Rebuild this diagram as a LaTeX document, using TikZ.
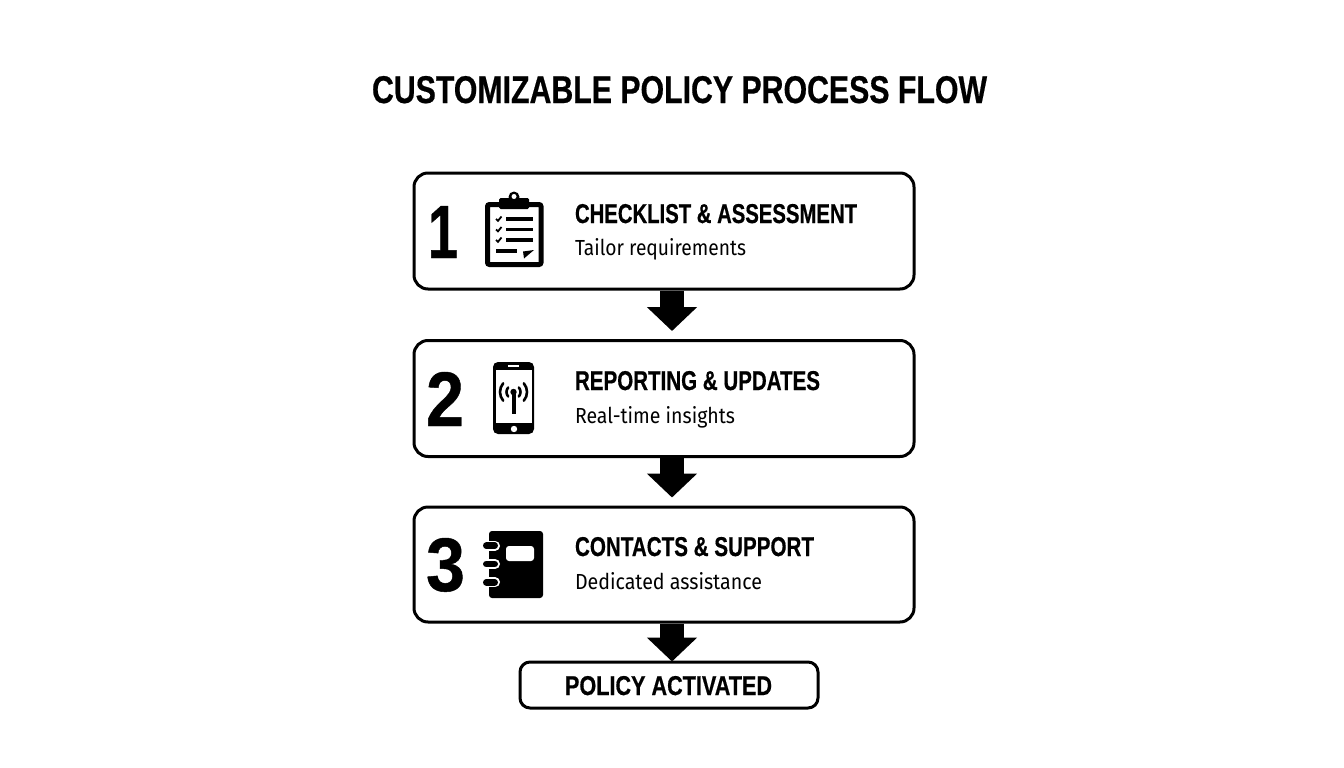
\documentclass[tikz,border=0pt]{standalone}
\usepackage{fontspec}
\usepackage{graphicx}
\setmainfont{Fira Sans}
\newfontfamily\headfont[BoldFeatures={FakeBold=0.6}]{Liberation Sans}
\usetikzlibrary{arrows.meta}
\newcommand{\fitbox}[3]{\resizebox{#1pt}{#2pt}{#3}}
\tikzset{
  x=1pt,y=-1pt,
  stepbox/.style={draw=black,line width=3pt,rounded corners=14pt,fill=white,inner sep=0pt},
  blockarrow/.style={line width=24pt,draw=black,-{Triangle[length=24pt,width=49pt,fill=black]}},
  txt/.style={anchor=base west,inner sep=0pt,outer sep=0pt,text=black},
}
\begin{document}
\begin{tikzpicture}
\useasboundingbox (0,0) rectangle (1344,768);
\node[txt] (title) at (372,103) {\fitbox{615}{27}{\headfont\bfseries CUSTOMIZABLE POLICY PROCESS FLOW}};
\node[stepbox,minimum width=500pt,minimum height=116pt] (b1) at (664,231) {};
\node[stepbox,minimum width=500pt,minimum height=116pt] (b2) at (664,398.5) {};
\node[stepbox,minimum width=500pt,minimum height=115pt] (b3) at (664,564.5) {};
\node[stepbox,minimum width=298pt,minimum height=46pt,rounded corners=10pt] (b4) at (669,685) {};
\draw[blockarrow] ([xshift=8pt]b1.south) -- ([xshift=8pt,yshift=8pt]b2.north);
\draw[blockarrow] ([xshift=8pt]b2.south) -- ([xshift=8pt,yshift=8pt]b3.north);
\draw[blockarrow] ([xshift=8pt]b3.south) -- ([xshift=3pt,yshift=-1pt]b4.north);
% numbers
\node[txt] (n1) at (428,258) {\fitbox{30}{52}{\headfont\bfseries 1}};
\node[txt] (n2) at (426,426) {\fitbox{38}{54}{\headfont\bfseries 2}};
\node[txt] (n3) at (426,591) {\fitbox{39}{53}{\headfont\bfseries 3}};
% texts
\node[txt] (h1) at (575,223) {\fitbox{282}{19}{\headfont\bfseries CHECKLIST \& ASSESSMENT}};
\node[txt] (s1) at (575,255) {\fitbox{171}{17}{Tailor requirements}};
\node[txt] (h2) at (575,390) {\fitbox{245}{19}{\headfont\bfseries REPORTING \& UPDATES}};
\node[txt] (s2) at (575,423) {\fitbox{160}{17}{Real-time insights}};
\node[txt] (h3) at (575,556) {\fitbox{239}{19}{\headfont\bfseries CONTACTS \& SUPPORT}};
\node[txt] (s3) at (575,589) {\fitbox{187}{17}{Dedicated assistance}};
\node[txt] (h4) at (565,695) {\fitbox{207}{19}{\headfont\bfseries POLICY ACTIVATED}};
% clipboard
\draw[line width=5pt,rounded corners=2pt] (499,204.5) -- (487.5,204.5) -- (487.5,264.5) -- (541,264.5) -- (541,204.5) -- (529,204.5);
\fill[rounded corners=1.5pt] (499,198) rectangle (529,209);
\fill (514,197) circle (5.5pt);
\fill[white] (514,196.5) circle (2.5pt);
\foreach \yy in {219,229.5,240}{
  \draw[line width=1.8pt] (496,\yy) -- (498,\yy+1.8) -- (501.5,\yy-2.5);
  \draw[line width=3.2pt] (506,\yy) -- (533,\yy);
}
\draw[line width=3.2pt] (496,251) -- (517,251);
\fill (523,251.5) -- (534,250) -- (524,258.5) -- cycle;
% phone
\fill[rounded corners=5pt] (493,362) rectangle (534,434);
\fill[white] (496,369.5) rectangle (532,423);
\draw[white,line width=1.8pt] (508,366) -- (519,366);
\fill[white] (514,429) circle (3.2pt);
\draw[line width=4pt] (513.5,392) -- (513.5,413.5);
\fill (513.5,392) circle (3.2pt);
\draw[line width=2.6pt,line cap=round] (518.86,396.5) arc[start angle=-40,end angle=40,radius=7pt];
\draw[line width=2.6pt,line cap=round] (508.14,396.5) arc[start angle=220,end angle=140,radius=7pt];
\draw[line width=2.6pt,line cap=round] (523.84,400.68) arc[start angle=-40,end angle=40,radius=13.5pt];
\draw[line width=2.6pt,line cap=round] (503.16,400.68) arc[start angle=220,end angle=140,radius=13.5pt];
% notebook
\fill[rounded corners=3pt] (489,531) rectangle (543,598);
\fill[white,rounded corners=3pt] (506,546) rectangle (534,561);
\foreach \yy in {545.7,564,582.3}{
  \draw[white,line width=10pt,line cap=round] (484,\yy) -- (495,\yy);
  \draw[line width=6.5pt,line cap=round] (486.25,\yy) -- (494.75,\yy);
}
\end{tikzpicture}
\end{document}
